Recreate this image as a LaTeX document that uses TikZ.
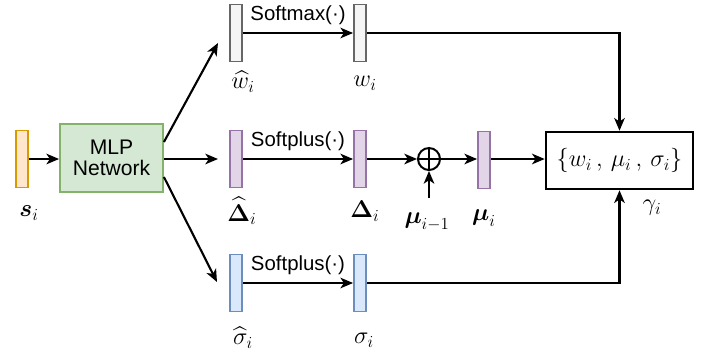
\documentclass[tikz,border=0pt]{standalone}
\usepackage{amsmath}
\usepackage{fontspec}
\setmainfont{Liberation Sans}
\usetikzlibrary{arrows.meta}
\definecolor{orfill}{HTML}{FFE6CC}
\definecolor{ordraw}{HTML}{D79B00}
\definecolor{grfill}{HTML}{D5E8D4}
\definecolor{grdraw}{HTML}{82B366}
\definecolor{gyfill}{HTML}{F5F5F5}
\definecolor{gydraw}{HTML}{666666}
\definecolor{pufill}{HTML}{E1D5E7}
\definecolor{pudraw}{HTML}{9673A6}
\definecolor{blfill}{HTML}{DAE8FC}
\definecolor{bldraw}{HTML}{6C8EBF}
\tikzset{
  nnline/.style={line width=1.5pt, draw=black},
  nnarrow/.style={nnline, -{Stealth[length=9pt, width=7.5pt, inset=2.5pt]}},
  nnbar/.style={minimum width=0.3cm, minimum height=1.425cm, inner sep=0pt, line width=1.3pt},
  nnorange/.style={nnbar, fill=orfill, draw=ordraw},
  nngrey/.style={nnbar, fill=gyfill, draw=gydraw},
  nnpurple/.style={nnbar, fill=pufill, draw=pudraw},
  nnblue/.style={nnbar, fill=blfill, draw=bldraw},
  nnmlp/.style={fill=grfill, draw=grdraw, line width=1.3pt, minimum width=2.575cm,
    minimum height=1.7cm, align=center, font=\fontsize{15}{15}\selectfont},
  nnset/.style={draw=black, line width=1.8pt, minimum width=3.675cm, minimum height=1.425cm,
    inner sep=0pt, font=\fontsize{18}{21}\selectfont},
  nnsum/.style={circle, draw=black, line width=1.4pt, minimum size=0.55cm, inner sep=0pt},
  nnmath/.style={inner sep=0pt, font=\fontsize{18}{21}\selectfont},
  nnfun/.style={inner sep=0pt, font=\fontsize{14.5}{17}\selectfont},
}

\begin{document}
\begin{tikzpicture}[x=0.025cm, y=-0.025cm]
\useasboundingbox (0,0) rectangle (712,358);
% input and network
\node[nnorange] (s) at (22,159) {};
\node[nnmath] (slab) at (29,213) {$\boldsymbol{s}_i$};
\node[nnmlp] (mlp) at (111.5,158) {MLP\\Network};
% raw outputs
\node[nngrey] (wh) at (236,33) {};
\node[nnpurple] (dh) at (236,159) {};
\node[nnblue] (sh) at (236,283) {};
\node[nnmath] (whlab) at (243,82) {$\widehat{w}_i$};
\node[nnmath] (dhlab) at (242,211) {$\widehat{\boldsymbol{\Delta}}_i$};
\node[nnmath] (shlab) at (243,338) {$\widehat{\sigma}_i$};
% activated outputs
\node[nngrey] (w) at (360,33) {};
\node[nnpurple] (d) at (360,159) {};
\node[nnblue] (sg) at (360,283) {};
\node[nnmath] (wlab) at (365,83) {$w_i$};
\node[nnmath] (dlab) at (365,211) {$\boldsymbol{\Delta}_i$};
\node[nnmath] (sglab) at (364,340) {$\sigma_i$};
% cumulative mean
\node[nnsum] (plus) at (429,159) {};
\draw[nnline] (plus.north) -- (plus.south);
\draw[nnline] (plus.west) -- (plus.east);
\coordinate (mprev) at (429,198);
\node[nnmath] (mprevlab) at (427,222) {$\boldsymbol{\mu}_{i-1}$};
\node[nnpurple] (mu) at (484,160) {};
\node[nnmath] (mulab) at (484,218) {$\boldsymbol{\mu}_i$};
% mixture parameters
\node[nnset] (gam) at (619.5,160.5) {$\{w_i\,,\,\mu_i\,,\,\sigma_i\}$};
\node[nnmath] (gamlab) at (652,208) {$\gamma_i$};
% connectors
\coordinate (toptip) at (218,43);
\coordinate (midtip) at (218,159);
\coordinate (bottip) at (217,282);
\draw[nnarrow] (s.east) -- (mlp.west |- s.east);
\draw[nnarrow] ([yshift=0.4cm]mlp.east) -- (toptip);
\draw[nnarrow] (mlp.east |- midtip) -- (midtip);
\draw[nnarrow] ([yshift=-0.475cm]mlp.east) -- (bottip);
\draw[nnarrow] (wh.east) -- node[nnfun, above=5pt] {Softmax(·)} (w.west);
\draw[nnarrow] (dh.east) -- node[nnfun, above=5pt] {Softplus(·)} (d.west);
\draw[nnarrow] (sh.east) -- node[nnfun, above=5pt] {Softplus(·)} (sg.west);
\draw[nnarrow] (d.east) -- (plus.west);
\draw[nnarrow] (mprev) -- (plus.south);
\draw[nnarrow] (plus.east) -- (mu.west |- plus.east);
\draw[nnarrow] (mu.east |- plus.east) -- (gam.west |- plus.east);
\draw[nnarrow] (w.east) -| (gam.north);
\draw[nnarrow] (sg.east) -| (gam.south);
\end{tikzpicture}
\end{document}
